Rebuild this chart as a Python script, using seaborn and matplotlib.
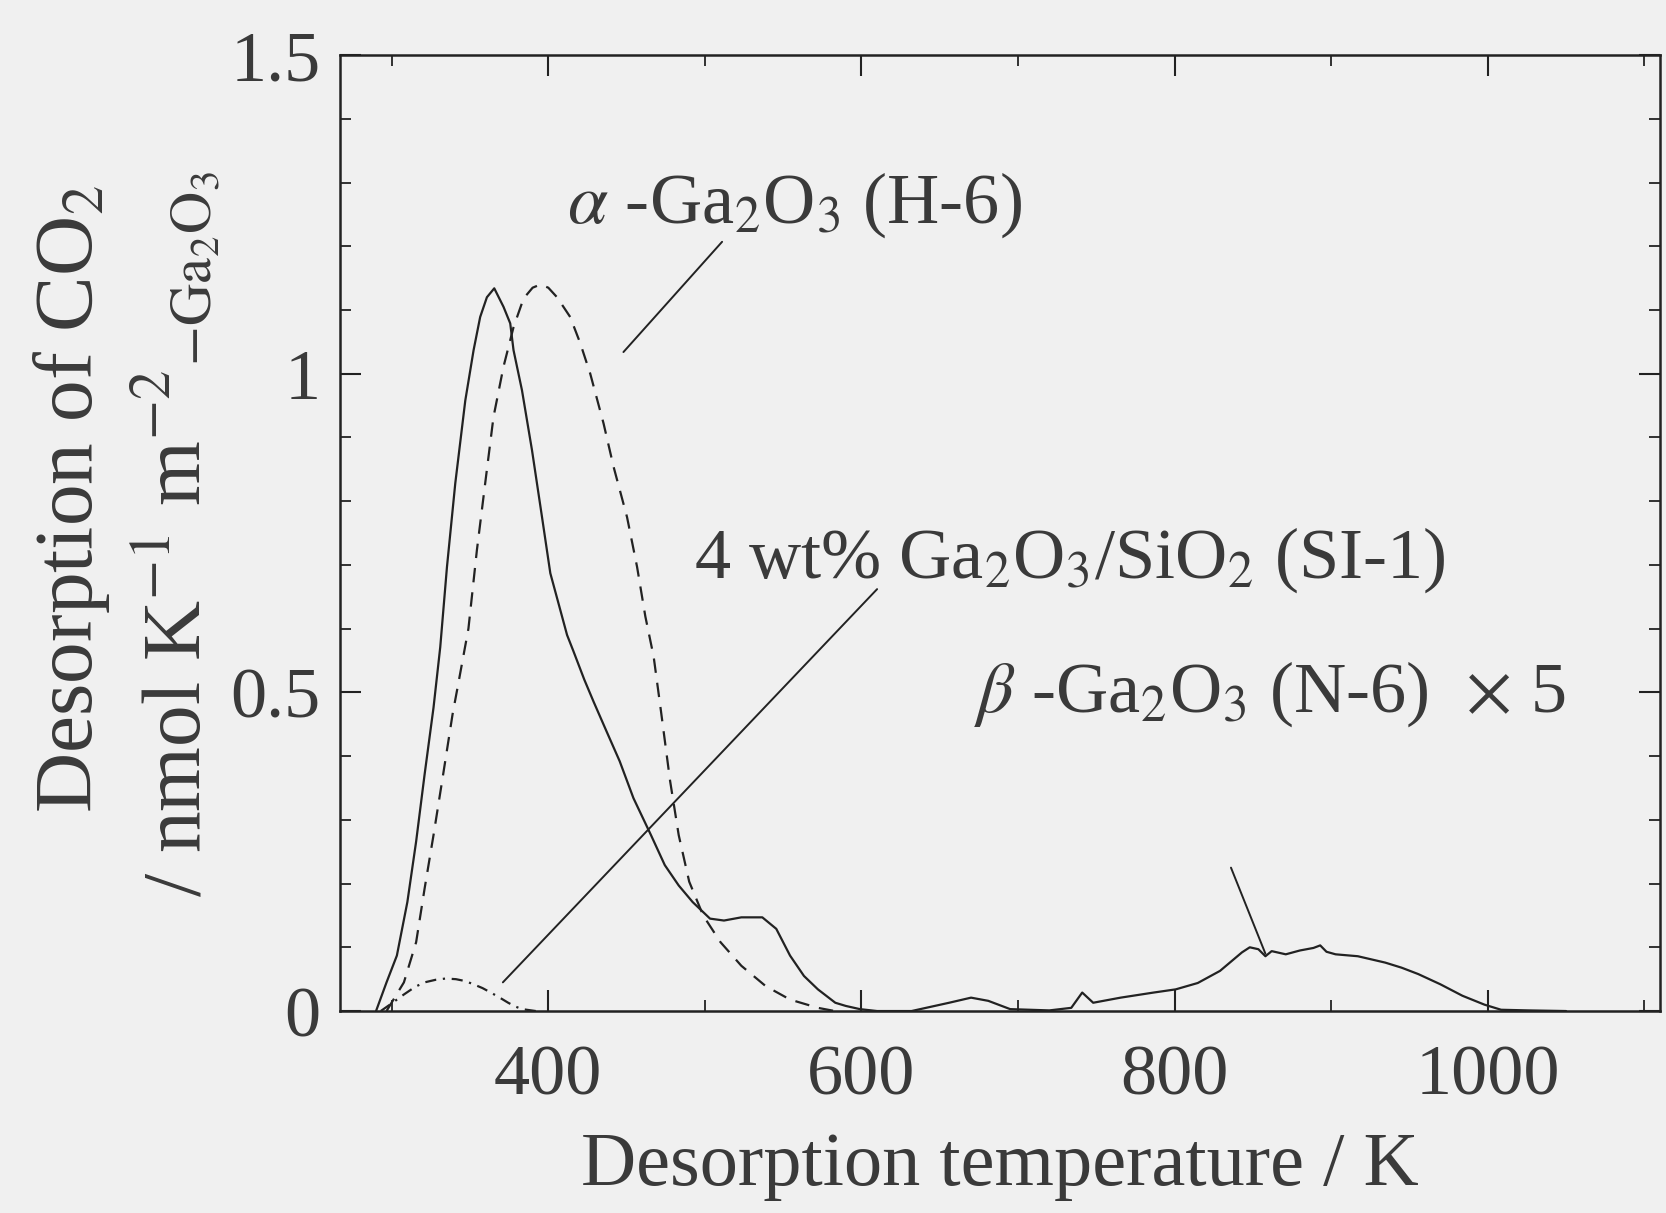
import numpy as np
import pandas as pd
import matplotlib
matplotlib.use("Agg")
import matplotlib.pyplot as plt
from matplotlib.ticker import MultipleLocator, FuncFormatter
import seaborn as sns

# ---------------- data ----------------
# beta-Ga2O3 (N-6) x5  (solid line)
beta_T = [290, 296.7, 303.3, 310, 315.6, 321, 326.7, 331, 335.3, 340.6, 347, 352.3,
          356.5, 360.8, 365.5, 371.4, 375.7, 377.8, 383.2, 389.6, 396, 401.3, 407.7,
          412, 416, 423, 429, 437, 445.6, 454.4, 465.6, 474.4, 483.3, 492.2, 503.3,
          512.2, 523.3, 536.7, 545.6, 554.4, 563.3, 572.2, 583.3, 590, 599, 610, 632,
          656, 670, 681, 695, 720, 734, 741, 748, 765.5, 786.6, 800.7, 814.8, 829,
          843, 848, 853.5, 858, 862, 871, 880, 888.7, 893, 897, 902.8, 917, 934.5,
          945, 955.6, 969.7, 983.8, 997.9, 1008.5, 1026, 1050]
beta_y = [0.0, 0.045, 0.087, 0.171, 0.266, 0.371, 0.476, 0.571, 0.697, 0.828, 0.958,
          1.037, 1.089, 1.12, 1.134, 1.105, 1.079, 1.037, 0.974, 0.88, 0.775, 0.687,
          0.629, 0.59, 0.565, 0.52, 0.485, 0.44, 0.392, 0.334, 0.276, 0.229, 0.197,
          0.171, 0.145, 0.142, 0.147, 0.147, 0.129, 0.087, 0.055, 0.034, 0.013, 0.008,
          0.003, 0.0, 0.0, 0.013, 0.021, 0.016, 0.003, 0.001, 0.005, 0.029, 0.013,
          0.021, 0.029, 0.034, 0.044, 0.063, 0.092, 0.1, 0.097, 0.086, 0.094, 0.089,
          0.095, 0.099, 0.103, 0.093, 0.089, 0.086, 0.076, 0.068, 0.058, 0.042,
          0.024, 0.01, 0.002, 0.001, 0.0]

# alpha-Ga2O3 (H-6)  (dashed line)
alpha_T = [296.7, 307.8, 315.6, 321, 326.7, 332.2, 338.9, 343, 349, 354.4, 359.7, 365,
           371.4, 377.8, 384.2, 390, 395, 400, 405.6, 414, 420.4, 426.8, 435.3, 441.7,
           450.3, 456.7, 462, 467.3, 472, 477.8, 483.3, 490, 498.9, 510, 523.3, 538.9,
           554.4, 572.2, 583]
alpha_y = [0.0, 0.045, 0.108, 0.192, 0.276, 0.361, 0.466, 0.52, 0.6, 0.723, 0.828,
           0.932, 1.011, 1.073, 1.118, 1.135, 1.14, 1.135, 1.12, 1.089, 1.048, 1.0,
           0.922, 0.854, 0.775, 0.697, 0.619, 0.556, 0.47, 0.361, 0.276, 0.203, 0.15,
           0.108, 0.071, 0.039, 0.018, 0.005, 0.0]

# 4 wt% Ga2O3/SiO2 (SI-1)  (dash-dot line)
si_T = [293, 300, 307.8, 315, 321, 328, 334.4, 341, 347, 352.2, 358, 363.3, 369,
        374.4, 379, 383.3, 392]
si_y = [0.0, 0.012, 0.026, 0.038, 0.045, 0.049, 0.051, 0.05, 0.047, 0.042, 0.036,
        0.029, 0.021, 0.013, 0.007, 0.003, 0.0]

x_ticks = [400, 600, 800, 1000]
y_ticks = [0, 0.5, 1, 1.5]

# ---------------- style ----------------
sns.set_style("ticks")
plt.rcParams["font.family"] = ["Liberation Serif", "DejaVu Serif"]
plt.rcParams["mathtext.fontset"] = "stix"

BG = "#f0f0f0"
INK = "#222222"
TXT = "#3a3a3a"

fig = plt.figure(figsize=(16.66, 12.13), dpi=100, facecolor=BG)
ax = fig.add_axes([0.2041, 0.1665, 0.7923, 0.7881])
ax.set_facecolor(BG)

df_beta = pd.DataFrame({"T": beta_T, "v": beta_y})
df_alpha = pd.DataFrame({"T": alpha_T, "v": alpha_y})
df_si = pd.DataFrame({"T": si_T, "v": si_y})

sns.lineplot(data=df_beta, x="T", y="v", ax=ax, color=INK, lw=1.6, estimator=None)
sns.lineplot(data=df_alpha, x="T", y="v", ax=ax, color=INK, lw=1.6, estimator=None)
ax.lines[-1].set_dashes((6.5, 4.5))
sns.lineplot(data=df_si, x="T", y="v", ax=ax, color=INK, lw=1.6, estimator=None)
ax.lines[-1].set_dashes((5, 3, 1, 3))

ax.set_xlim(267, 1110)
ax.set_ylim(0, 1.5)
ax.set_xticks(x_ticks)
ax.set_yticks(y_ticks)
ax.xaxis.set_minor_locator(MultipleLocator(100))
ax.yaxis.set_minor_locator(MultipleLocator(0.1))
ax.yaxis.set_major_formatter(FuncFormatter(lambda v, p: f"{v:g}"))

for s in ax.spines.values():
    s.set_visible(True)
    s.set_linewidth(1.8)
    s.set_color(INK)

ax.tick_params(which="both", direction="in", top=True, right=True, colors=INK,
               labelcolor=TXT)
ax.tick_params(which="major", length=15, width=1.5, labelsize=52)
ax.tick_params(which="minor", length=8, width=1.3)
ax.tick_params(axis="x", which="major", pad=24)
ax.tick_params(axis="y", which="major", pad=14)

ax.set_xlabel("Desorption temperature / K", fontsize=55, color=TXT, labelpad=16)
ax.set_ylabel("")

fig.text(0.043, 0.589, r"Desorption of CO$_2$", rotation=90, fontsize=60,
         color=TXT, ha="center", va="center")
fig.text(0.106, 0.56, r"/ nmol K$^{-1}$ m$^{-2}$$_{\mathrm{-Ga_2O_3}}$", rotation=90,
         fontsize=60, color=TXT, ha="center", va="center")

# ---------------- annotations ----------------
tkw = dict(fontsize=52, color=TXT, ha="left", va="baseline")
ax.text(412, 1.237, r"$\alpha$ -Ga$_2$O$_3$ (H-6)", **tkw)
ax.text(493, 0.68, r"4 wt% Ga$_2$O$_3$/SiO$_2$ (SI-1)", **tkw)
ax.text(672, 0.47, r"$\beta$ -Ga$_2$O$_3$ (N-6)  $\times$ 5", **tkw)

lkw = dict(arrowprops=dict(arrowstyle="-", color=INK, lw=1.4, shrinkA=0, shrinkB=0))
ax.annotate("", xy=(448, 1.034), xytext=(511, 1.207), **lkw)
ax.annotate("", xy=(371, 0.045), xytext=(610, 0.662), **lkw)
ax.annotate("", xy=(858, 0.09), xytext=(836, 0.225), **lkw)

fig.savefig("out.png", dpi=100, facecolor=BG)
